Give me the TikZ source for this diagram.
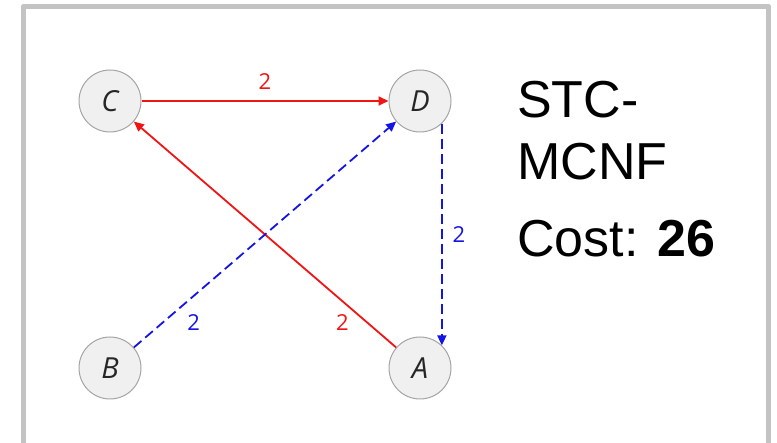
\documentclass[tikz,border=0pt]{standalone}
\usepackage{fontspec}
\setmainfont{Liberation Sans}
\newfontfamily\graphfont{Open Sans}
\usetikzlibrary{arrows.meta}

\definecolor{framegray}{HTML}{C3C3C3}
\definecolor{vertexfill}{HTML}{F0F0F0}
\definecolor{vertexline}{HTML}{A5A5A5}
\definecolor{flowred}{HTML}{F01414}
\definecolor{flowblue}{HTML}{1414E6}

\tikzset{
    vertex/.style={circle, draw=vertexline, fill=vertexfill, line width=1pt,
        minimum size=62pt, inner sep=0pt, text=black!85,
        font=\graphfont\itshape\fontsize{29}{29}\selectfont},
    redflow/.style={draw=flowred, line width=1.8pt, -{Triangle[length=10pt,width=9pt]}},
    blueflow/.style={draw=flowblue, line width=1.8pt, dash pattern=on 10pt off 5pt,
        -{Triangle[length=10pt,width=9pt]}},
    weight/.style={font=\graphfont\fontsize{22}{22}\selectfont, inner sep=0pt},
    infotext/.style={anchor=base west, inner sep=0pt, font=\fontsize{52}{52}\selectfont},
}

\begin{document}
\begin{tikzpicture}[x=1pt, y=-1pt]
    \useasboundingbox (0,0) rectangle (777,443);
    % Frame
    \draw[framegray, line width=5pt, line join=round] (23.5,443) -- (23.5,6.5) -- (768.5,6.5) -- (768.5,443);
    % Vertices
    \node[vertex] (C) at (110,101) {C};
    \node[vertex] (D) at (420,101) {D};
    \node[vertex] (B) at (110,368) {B};
    \node[vertex] (A) at (420,368) {A};
    % Flows
    \draw[redflow] (C) -- node[weight, text=flowred, midway, yshift=19pt] {2} (D);
    \draw[redflow] (A) -- node[weight, text=flowred, pos=0.165, xshift=-10.5pt, yshift=-12.3pt] {2} (C);
    \draw[blueflow] (B) -- node[weight, text=flowblue, pos=0.178, xshift=13pt, yshift=-15.3pt] {2} (D);
    \draw[blueflow] (D.-46) -- node[weight, text=flowblue, midway, xshift=17pt] {2} (A.46);
    % Result
    \node[infotext] (stc) at (517,118) {STC-};
    \node[infotext] (mcnf) at (517,180) {MCNF};
    \node[infotext] (cost) at (517,257) {Cost: \textbf{26}};
\end{tikzpicture}
\end{document}
